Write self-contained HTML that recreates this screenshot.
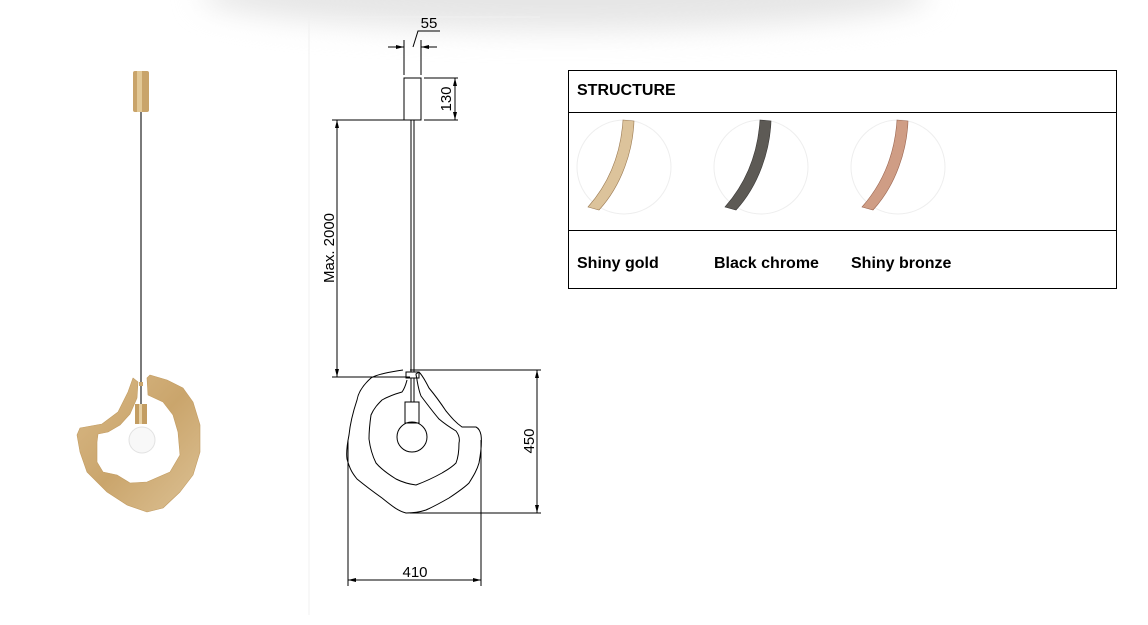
<!DOCTYPE html>
<html><head><meta charset="utf-8"><style>
html,body{margin:0;padding:0;background:#fff;}
body{width:1148px;height:625px;position:relative;overflow:hidden;font-family:"Liberation Sans",sans-serif;}
.shadow{position:absolute;left:200px;top:-40px;width:730px;height:70px;border-radius:50%;background:#e6e6e6;filter:blur(14px);}
svg{position:absolute;left:0;top:0;}
</style></head><body>
<div class="shadow"></div>
<svg width="1148" height="625" viewBox="0 0 1148 625">
<defs>
<linearGradient id="gold" x1="0" y1="0" x2="1" y2="1">
<stop offset="0" stop-color="#d9b987"/><stop offset="0.5" stop-color="#caa56c"/><stop offset="1" stop-color="#dcc194"/></linearGradient>
<marker id="ar" markerWidth="8" markerHeight="6" refX="8" refY="3" orient="auto-start-reverse" markerUnits="userSpaceOnUse"><path d="M0,1 L8,3 L0,5z" fill="#000"/></marker>
</defs>
<line x1="309" y1="17" x2="309" y2="615" stroke="#f0f0f0"/>
<line x1="309" y1="17" x2="540" y2="17" stroke="#f0f0f0"/>

<!-- photo -->
<rect x="133" y="71" width="16" height="41" rx="2" fill="#c9a46a"/>
<rect x="137" y="71" width="5" height="41" fill="#e2c896"/>
<line x1="141" y1="112" x2="141" y2="404" stroke="#333" stroke-width="1.3"/>
<rect x="139" y="382" width="4" height="4" fill="#c9a46a"/>
<path d="M133,378 L128,392 L118,412 L102,424 L80,428 L77,435 L80,452 L87,472 L107,492 L127,505 L147,512 L163,508 L180,492 L193,475 L200,452 L200,425 L193,402 L183,388 L167,380 L150,375 L147,378 L148,395 L163,402 L173,415 L178,432 L180,455 L170,472 L147,482 L130,483 L117,475 L103,472 L97,462 L97,442 L98,434 L108,432 L120,425 L130,414 L137,398 L138,382 Z" fill="url(#gold)" stroke="#c29c62" stroke-width="0.6" stroke-linejoin="round"/>
<rect x="135" y="404" width="12" height="20" fill="#c39d62"/>
<rect x="139" y="404" width="3" height="20" fill="#e6cfa3"/>
<circle cx="142" cy="440" r="13" fill="#f8f8f8" stroke="#e2e2e2"/>

<!-- drawing -->
<g stroke="#000" stroke-width="1" fill="none">
<line x1="404" y1="40" x2="404" y2="75"/><line x1="421" y1="40" x2="421" y2="75"/>
<line x1="388" y1="47" x2="404" y2="47" marker-end="url(#ar)"/>
<line x1="437" y1="47" x2="421" y2="47" marker-end="url(#ar)"/>
<polyline points="413,47 418,31 440,31"/>
<rect x="404" y="78" width="17" height="42"/>
<line x1="424" y1="78" x2="458" y2="78"/><line x1="424" y1="120" x2="458" y2="120"/>
<line x1="455" y1="78" x2="455" y2="120" marker-start="url(#ar)" marker-end="url(#ar)"/>
<line x1="332" y1="120" x2="421" y2="120"/>
<line x1="337" y1="120" x2="337" y2="377" marker-start="url(#ar)" marker-end="url(#ar)"/>
<line x1="332" y1="377" x2="410" y2="377"/>
<line x1="411" y1="120" x2="411" y2="372"/><line x1="414" y1="120" x2="414" y2="372"/>
<line x1="410" y1="370" x2="541" y2="370"/>
<line x1="410" y1="513" x2="541" y2="513"/>
<line x1="537" y1="370" x2="537" y2="513" marker-start="url(#ar)" marker-end="url(#ar)"/>
<line x1="348" y1="440" x2="348" y2="586"/><line x1="481" y1="440" x2="481" y2="586"/>
<line x1="348" y1="580" x2="481" y2="580" marker-start="url(#ar)" marker-end="url(#ar)"/>
<path d="M403,370 C390,372 378,374 371,378 C362,386 358,394 357,400 C352,415 350,425 349,435 C347,445 346,452 347,459 C350,470 353,474 357,479 C368,488 375,493 382,498 C392,506 398,511 406,513 C414,513 420,512 426,510 C435,506 442,502 449,498 C458,492 464,488 469,483 C474,475 477,470 479,463 C481,452 482,442 481,435 C480,430 478,428 476,427 C470,427 466,427 462,427 C455,422 451,417 446,411 C440,402 434,394 429,388 C425,380 422,375 419,372 L416,374 C416,376 417,378 417,380 C418,386 419,391 421,396 C427,404 433,412 439,419 C446,425 451,428 456,431 C459,435 460,439 459,443 C459,452 458,458 456,463 C451,468 447,470 442,473 C433,478 424,482 416,485 C408,484 402,482 396,479 C388,474 381,469 376,463 C372,455 370,447 369,439 C369,430 370,422 371,415 C374,408 378,404 382,400 C389,396 395,394 402,392 C405,388 406,384 407,380"/>
<rect x="406" y="372" width="13" height="6"/>
<line x1="411" y1="378" x2="411" y2="402"/><line x1="414" y1="378" x2="414" y2="402"/>
<rect x="405" y="402" width="14" height="21"/>
<circle cx="412" cy="437" r="15"/>
</g>
<g font-family="Liberation Sans, sans-serif" font-size="15" fill="#000">
<text x="429" y="28" text-anchor="middle">55</text>
<text transform="translate(451,99) rotate(-90)" text-anchor="middle">130</text>
<text transform="translate(334,248) rotate(-90)" text-anchor="middle">Max. 2000</text>
<text transform="translate(534,441) rotate(-90)" text-anchor="middle">450</text>
<text x="415" y="577" text-anchor="middle">410</text>
</g>

<!-- table -->
<rect x="568.5" y="70.5" width="548" height="218" fill="none" stroke="#000"/>
<line x1="568" y1="112.5" x2="1117" y2="112.5" stroke="#000"/>
<line x1="568" y1="230.5" x2="1117" y2="230.5" stroke="#000"/>
<g fill="none" stroke="#eee"><circle cx="624" cy="167" r="47"/><circle cx="761" cy="167" r="47"/><circle cx="898" cy="167" r="47"/></g>
<path d="M623,120 L634,121 C633,150 622,185 599,210 L588,207 C610,182 621,152 623,120Z" fill="#dcc39b" stroke="#9b7a52" stroke-width="0.6"/>
<path d="M760,120 L771,121 C770,150 759,185 736,210 L725,207 C747,182 758,152 760,120Z" fill="#5d5a55" stroke="#3a3836" stroke-width="0.6"/>
<path d="M897,120 L908,121 C907,150 896,185 873,210 L862,207 C884,182 895,152 897,120Z" fill="#cf9d85" stroke="#9a6550" stroke-width="0.6"/>
<g font-family="Liberation Sans, sans-serif" font-size="16" font-weight="bold" fill="#000">
<text x="577" y="95">STRUCTURE</text>
<text x="577" y="268">Shiny gold</text>
<text x="714" y="268">Black chrome</text>
<text x="851" y="268">Shiny bronze</text>
</g>
</svg>
</body></html>
